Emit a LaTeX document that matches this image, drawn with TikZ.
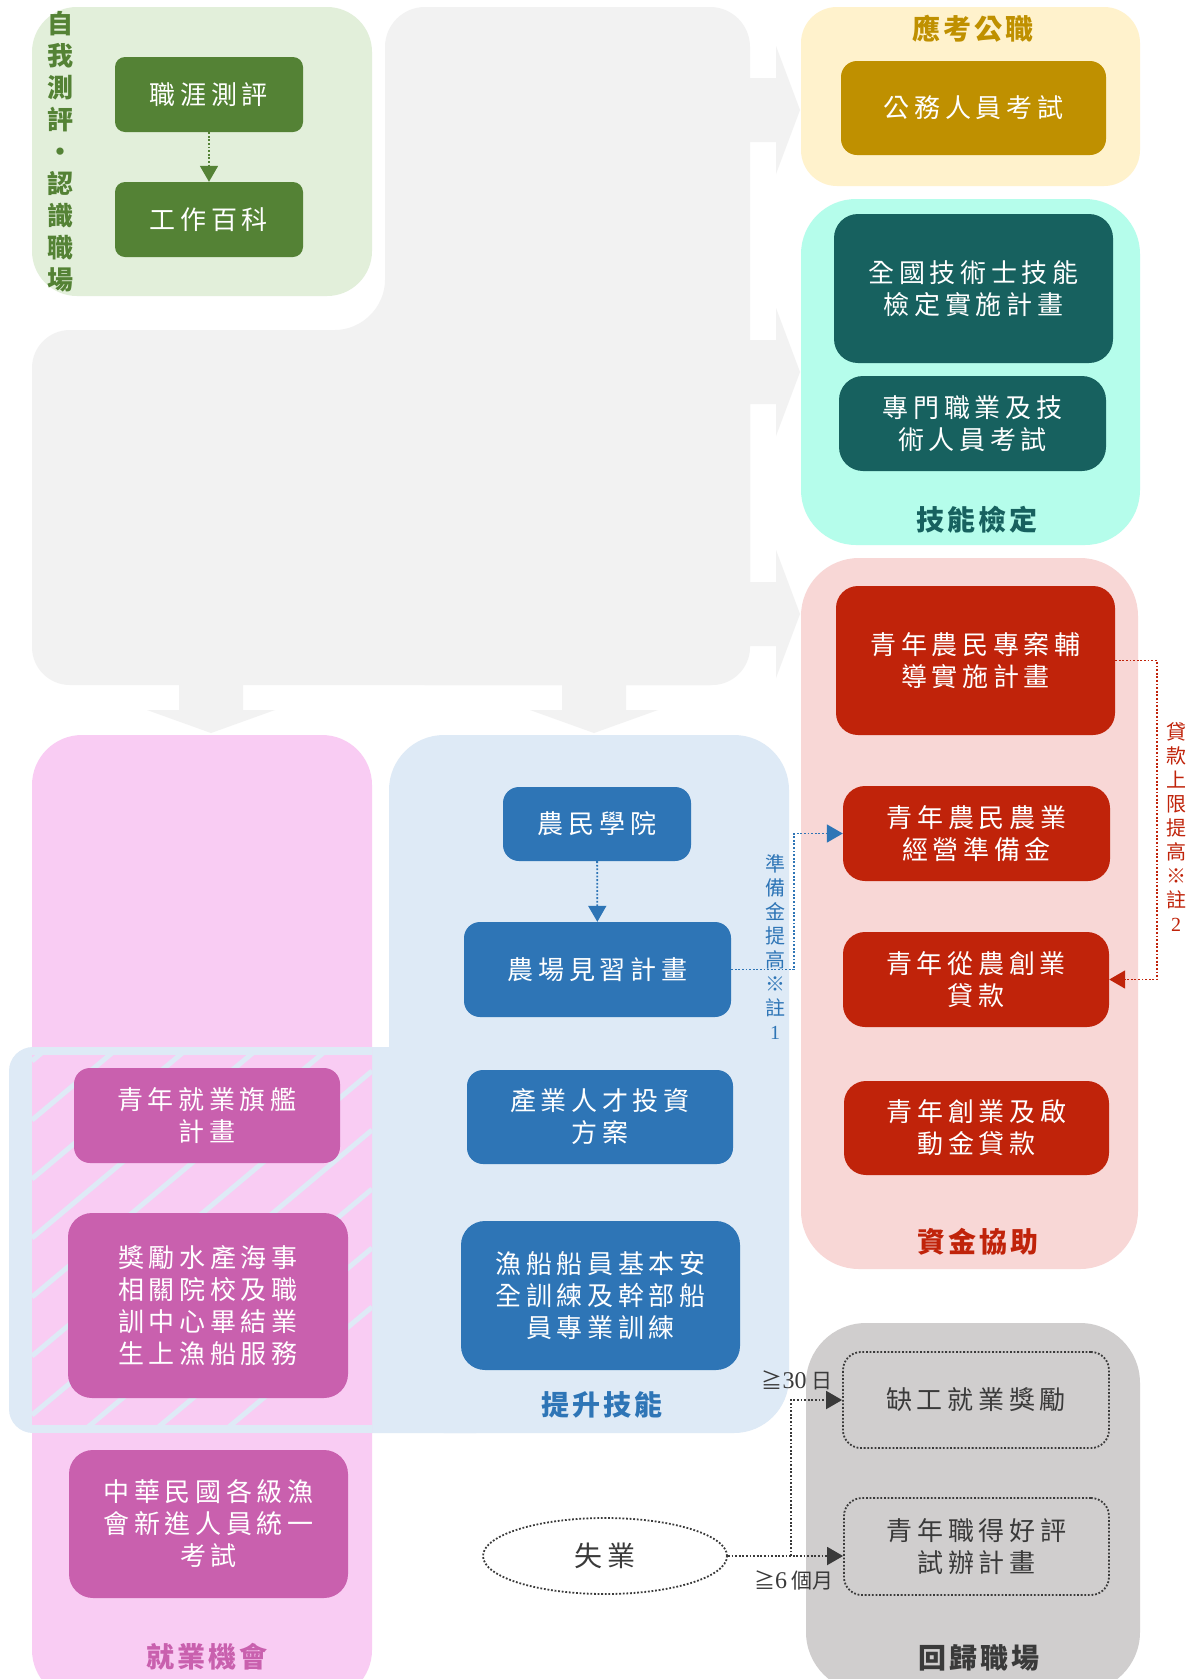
\documentclass[tikz,border=0pt]{standalone}
\usepackage{fontspec}
\usetikzlibrary{arrows.meta,shapes.geometric}
\newfontfamily\cjk{Noto Sans CJK TC}
\newfontfamily\cjkspaced[LetterSpace=18]{Noto Sans CJK TC}
\newfontfamily\cjkhead[LetterSpace=10]{Noto Sans CJK TC}
\newfontfamily\numfont{Liberation Serif}
\newcommand\progfont{\cjkspaced\fontsize{26}{32}\selectfont}
\newcommand\panelfont{\cjkhead\bfseries\fontsize{28}{32}\selectfont}
\newcommand\notefnt{\cjk\fontsize{20}{24}\selectfont}
\definecolor{cBg}{HTML}{F2F2F2}
\definecolor{cGreenBg}{HTML}{E2EFDA}
\definecolor{cGreen}{HTML}{548235}
\definecolor{cGoldBg}{HTML}{FFF2CC}
\definecolor{cGold}{HTML}{BF9000}
\definecolor{cTealBg}{HTML}{B5FDEB}
\definecolor{cTeal}{HTML}{17615F}
\definecolor{cRedBg}{HTML}{F8D7D6}
\definecolor{cRed}{HTML}{C0230A}
\definecolor{cGrayBg}{HTML}{D0CECE}
\definecolor{cDark}{HTML}{3A3A3A}
\definecolor{cBlueBg}{HTML}{DEEAF6}
\definecolor{cBlue}{HTML}{2E75B6}
\definecolor{cPinkBg}{HTML}{F9CCF3}
\definecolor{cPink}{HTML}{C960AE}

\begin{document}
\begin{tikzpicture}[
    x=1pt, y=-1pt,
    every node/.style={inner sep=0pt},
    prog/.style={rounded corners=16, align=center, text=white, font=\progfont},
    greenbox/.style={prog, fill=cGreen, rounded corners=10},
    goldbox/.style={prog, fill=cGold},
    tealbox/.style={prog, fill=cTeal, rounded corners=24},
    redbox/.style={prog, fill=cRed, rounded corners=22},
    bluebox/.style={prog, fill=cBlue},
    pinkbox/.style={prog, fill=cPink, rounded corners=24},
    graybox/.style={prog, text=cDark, draw=cDark, line width=1.8, dash pattern=on 1.8pt off 1.8pt, rounded corners=18},
    heading/.style={font=\panelfont},
    sidenote/.style={align=center, font=\notefnt},
    flow/.style={line width=1.8, dash pattern=on 1.8pt off 1.8pt, -{Triangle[width=18pt,length=16pt]}}
]
\useasboundingbox (0,0) rectangle (1194,1679);
\clip (0,0) rectangle (1194,1679);
\fill[white] (0,0) rectangle (1194,1679);

\fill[cBg, rounded corners=40] (385,7) rectangle (750,685);
\fill[cBg, rounded corners=38] (32,330) rectangle (750,685);
\fill[cBg] (335,330) .. controls (362,330) and (385,307) .. (385,280) -- (385,330) -- cycle;
\foreach \ty in {110,372,614}
  \fill[cBg] (745,\ty-32) -- (776,\ty-32) -- (776,\ty-64) -- (800,\ty) -- (776,\ty+64) -- (776,\ty+32) -- (745,\ty+32) -- cycle;
\foreach \tx in {211,594}
  \fill[cBg] (\tx-32,680) -- (\tx-32,710) -- (\tx-64,710) -- (\tx,733) -- (\tx+64,710) -- (\tx+32,710) -- (\tx+32,680) -- cycle;

\fill[cGreenBg, rounded corners=45] (32,7) rectangle (372,296);
\fill[cGoldBg, rounded corners=36] (801,7) rectangle (1140,186);
\fill[cTealBg, rounded corners=55] (801,199) rectangle (1140,545);
\fill[cRedBg, rounded corners=58] (801,558) rectangle (1138,1269);
\fill[cGrayBg, rounded corners=60] (806,1323) rectangle (1140,1692);
\fill[cBlueBg, rounded corners=55] (389,735) rectangle (789,1433);
\fill[cBlueBg, rounded corners=24] (9,1047) rectangle (500,1433);
\fill[cPinkBg, rounded corners=50] (32,735) rectangle (372,1700);
\fill[cBlueBg] (32,1047) rectangle (372,1433);
\fill[cPinkBg] (32,1055) rectangle (372,1425);
\begin{scope}
  \clip (32,1055) rectangle (372,1425);
  \foreach \k in {-6,...,8}
    \draw[cBlueBg, line width=5] (32,1120+59*\k) -- (372,1120+59*\k-285);
\end{scope}

\node[align=center, font=\cjk\bfseries\fontsize{26}{32}\selectfont, text=cGreen] (selftitle) at (60,152) {自\\我\\測\\評\\・\\認\\識\\職\\場};
\node[greenbox, minimum width=188, minimum height=75] (career) at (209,94.5) {職涯測評};
\node[greenbox, minimum width=188, minimum height=75] (jobwiki) at (209,219.5) {工作百科};

\node[heading, text=cGold] (civiltitle) at (973,29) {應考公職};
\node[goldbox, minimum width=265, minimum height=94] (civil) at (973.5,108) {公務人員考試};

\node[tealbox, minimum width=279, minimum height=149] (techcert) at (973.5,288.5) {全國技術士技能\\檢定實施計畫};
\node[tealbox, minimum width=267, minimum height=95] (profexam) at (972.5,423.5) {專門職業及技\\術人員考試};
\node[heading, text=cTeal] (skilltitle) at (977,520) {技能檢定};

\node[redbox, minimum width=279, minimum height=149] (youthplan) at (975.5,660.5) {青年農民專案輔\\導實施計畫};
\node[redbox, minimum width=267, minimum height=95] (reserve) at (976.5,833.5) {青年農民農業\\經營準備金};
\node[redbox, minimum width=266, minimum height=95] (startloan) at (976,979.5) {青年從農創業\\貸款};
\node[redbox, minimum width=265, minimum height=94] (launchloan) at (976.5,1128) {青年創業及啟\\動金貸款};
\node[heading, text=cRed] (fundtitle) at (978,1242) {資金協助};

\node[graybox, minimum width=266, minimum height=96] (shortage) at (976,1400) {缺工就業獎勵};
\node[graybox, minimum width=265, minimum height=97] (trial) at (976.5,1546.5) {青年職得好評\\試辦計畫};
\node[heading, text=cDark] (returntitle) at (979,1658) {回歸職場};

\node[bluebox, minimum width=188, minimum height=74] (academy) at (597,824) {農民學院};
\node[bluebox, minimum width=267, minimum height=95] (intern) at (597.5,969.5) {農場見習計畫};
\node[bluebox, minimum width=266, minimum height=94] (invest) at (600,1117) {產業人才投資\\方案};
\node[bluebox, minimum width=279, minimum height=149, rounded corners=24] (fishtrain) at (600.5,1295.5) {漁船船員基本安\\全訓練及幹部船\\員專業訓練};
\node[heading, text=cBlue] (upskilltitle) at (602,1405) {提升技能};

\node[pinkbox, minimum width=266, minimum height=95, rounded corners=16] (flagship) at (207,1115.5) {青年就業旗艦\\計畫};
\node[pinkbox, minimum width=280, minimum height=185] (fishery) at (208,1305.5) {獎勵水產海事\\相關院校及職\\訓中心畢結業\\生上漁船服務};
\node[pinkbox, minimum width=279, minimum height=148] (fishexam) at (208.5,1524) {中華民國各級漁\\會新進人員統一\\考試};
\node[heading, text=cPink] (jobtitle) at (207,1657) {就業機會};

\node[ellipse, draw=cDark, line width=1.8, dash pattern=on 1.8pt off 1.8pt, minimum width=244, minimum height=76, font=\cjkspaced\fontsize{28}{32}\selectfont, text=cDark] (unemp) at (605,1556) {失業};

\node[sidenote, text=cBlue] (fundnote) at (775,947) {準\\備\\金\\提\\高\\※\\註\\{\numfont 1}};
\node[sidenote, text=cRed] (loannote) at (1176,827) {貸\\款\\上\\限\\提\\高\\※\\註\\{\numfont 2}};
\node[font=\cjk\fontsize{21}{24}\selectfont, text=cDark] (daynote) at (797,1380) {≧{\numfont\fontsize{24}{24}\selectfont 30} 日};
\node[font=\cjk\fontsize{21}{24}\selectfont, text=cDark] (monthnote) at (794,1580) {≧{\numfont\fontsize{24}{24}\selectfont 6} 個月};

\coordinate (fundbend) at (794,969.5);
\coordinate (loanbend) at (1157,979.5);
\coordinate (split) at (791,1556);
\draw[flow, cGreen] (career) -- (jobwiki);
\draw[flow, cBlue] (academy) -- (intern);
\draw[flow, cBlue] (intern.east) -- (fundbend) |- (reserve.west);
\draw[flow, cRed] (youthplan.east) -| (loanbend) -- (startloan.east);
\draw[flow, cDark] (unemp.east) -- (split) -- (split -| trial.west);
\draw[flow, cDark] (split) |- (shortage.west);
\end{tikzpicture}
\end{document}
